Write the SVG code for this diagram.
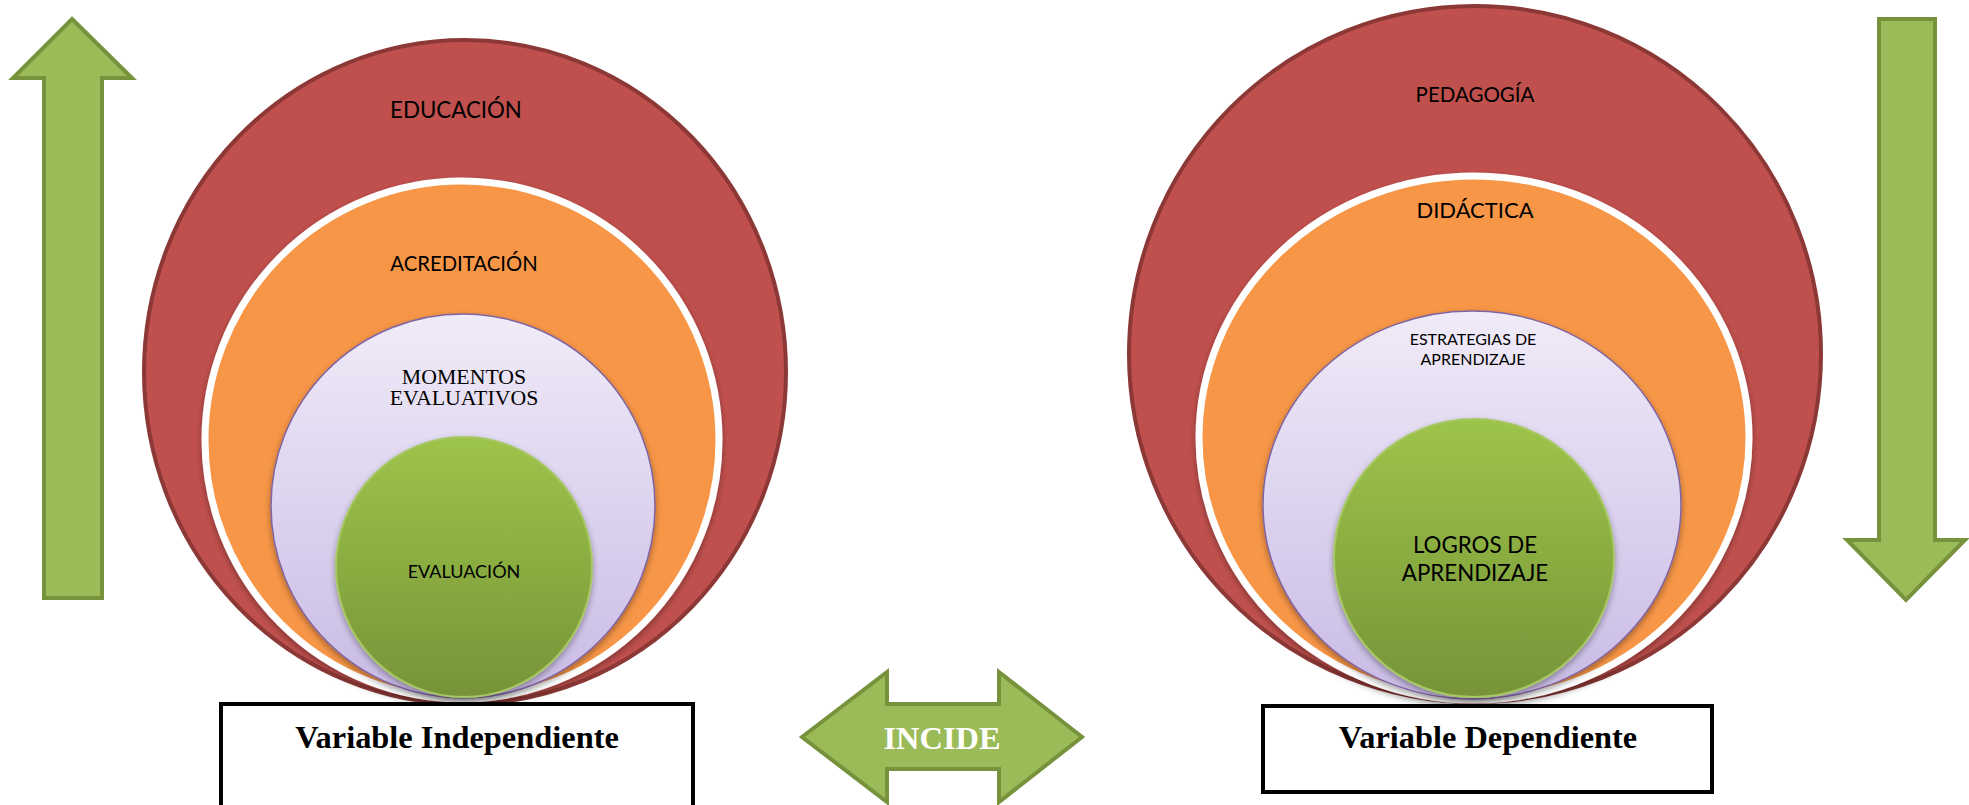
<svg xmlns="http://www.w3.org/2000/svg" width="1969" height="805" viewBox="0 0 1969 805">
<defs>
<linearGradient id="lav" x1="0" y1="0" x2="0" y2="1"><stop offset="0" stop-color="#f0ebf8"/><stop offset="1" stop-color="#c9bbe5"/></linearGradient>
<linearGradient id="grn" x1="0" y1="0" x2="0" y2="1"><stop offset="0" stop-color="#9dc44a"/><stop offset="1" stop-color="#769438"/></linearGradient>
<filter id="sh" x="-10%" y="-10%" width="120%" height="125%"><feDropShadow dx="0" dy="3" stdDeviation="3" flood-color="#000" flood-opacity="0.35"/></filter>
</defs>
<style>
.red{fill:#c0504d;stroke:#8c3836;stroke-width:4}
.org{fill:#f79646;stroke:#fff;stroke-width:7}
.lav{fill:url(#lav);stroke:#8064a2;stroke-width:1.5}
.grn{fill:url(#grn);stroke:#a6c763;stroke-width:2}
.arr{fill:#9bbb59;stroke:#76923c;stroke-width:4;stroke-linejoin:miter}
.box{fill:#fff;stroke:#000;stroke-width:4}
.c{font-family:Lato,"Open Sans","Liberation Sans",sans-serif;fill:#000;text-anchor:middle}
.t{font-family:"Liberation Serif","Times New Roman",serif;fill:#000;text-anchor:middle}
.tb{font-family:"Liberation Serif","Times New Roman",serif;font-weight:bold;fill:#000;text-anchor:middle;font-size:32.4px}
</style>
<rect width="1969" height="805" fill="#fff"/>
<g id="arrow-up"><polygon class="arr" points="72,19 132,78 102,78 102,598 44,598 44,78 13,78"/></g>
<g id="arrow-down"><polygon class="arr" points="1879,19 1935,19 1935,540 1965,540 1906,600 1847,540 1879,540"/></g>
<g id="left-circles">
<g id="educacion"><ellipse class="red" cx="465" cy="372" rx="321" ry="332"/><text class="c" x="456" y="118" font-size="22.3">EDUCACIÓN</text></g>
<g id="acreditacion"><ellipse class="org" cx="462" cy="440" rx="257" ry="259" filter="url(#sh)"/><text class="c" x="464" y="271" font-size="20.3">ACREDITACIÓN</text></g>
<g id="momentos"><ellipse class="lav" cx="463" cy="506" rx="192" ry="192" filter="url(#sh)"/><text class="t" x="464" y="384" font-size="21.8">MOMENTOS</text><text class="t" x="464" y="405" font-size="21.8">EVALUATIVOS</text></g>
<g id="evaluacion"><ellipse class="grn" cx="464" cy="567" rx="128" ry="130" filter="url(#sh)"/><text class="c" x="464" y="578" font-size="18">EVALUACIÓN</text></g>
</g>
<g id="right-circles">
<g id="pedagogia"><ellipse class="red" cx="1475" cy="354" rx="346" ry="348"/><text class="c" x="1475" y="102" font-size="20.5">PEDAGOGÍA</text></g>
<g id="didactica"><ellipse class="org" cx="1474" cy="438" rx="275" ry="262" filter="url(#sh)"/><text class="c" x="1475" y="218" font-size="22">DIDÁCTICA</text></g>
<g id="estrategias"><ellipse class="lav" cx="1472" cy="505" rx="209" ry="194" filter="url(#sh)"/><text class="c" x="1473" y="345" font-size="16">ESTRATEGIAS DE</text><text class="c" x="1473" y="365" font-size="16">APRENDIZAJE</text></g>
<g id="logros"><ellipse class="grn" cx="1474" cy="558" rx="140" ry="139" filter="url(#sh)"/><text class="c" x="1475" y="553" font-size="22.3">LOGROS DE</text><text class="c" x="1475" y="581" font-size="22.3">APRENDIZAJE</text></g>
</g>
<g id="box-independiente"><rect class="box" x="221" y="704" width="472" height="110"/><text class="tb" x="457" y="748">Variable Independiente</text></g>
<g id="box-dependiente"><rect class="box" x="1263" y="706" width="449" height="86"/><text class="tb" x="1488" y="748">Variable Dependiente</text></g>
<g id="connectors">
<g id="incide"><polygon class="arr" points="802,737 887,672 887,704 999,704 999,672 1082,737 999,802 999,769 887,769 887,802"/><text x="942" y="749" font-family="'Liberation Serif','Times New Roman',serif" font-weight="bold" font-size="32.4" fill="#fff" text-anchor="middle">INCIDE</text></g>
</g>
</svg>
